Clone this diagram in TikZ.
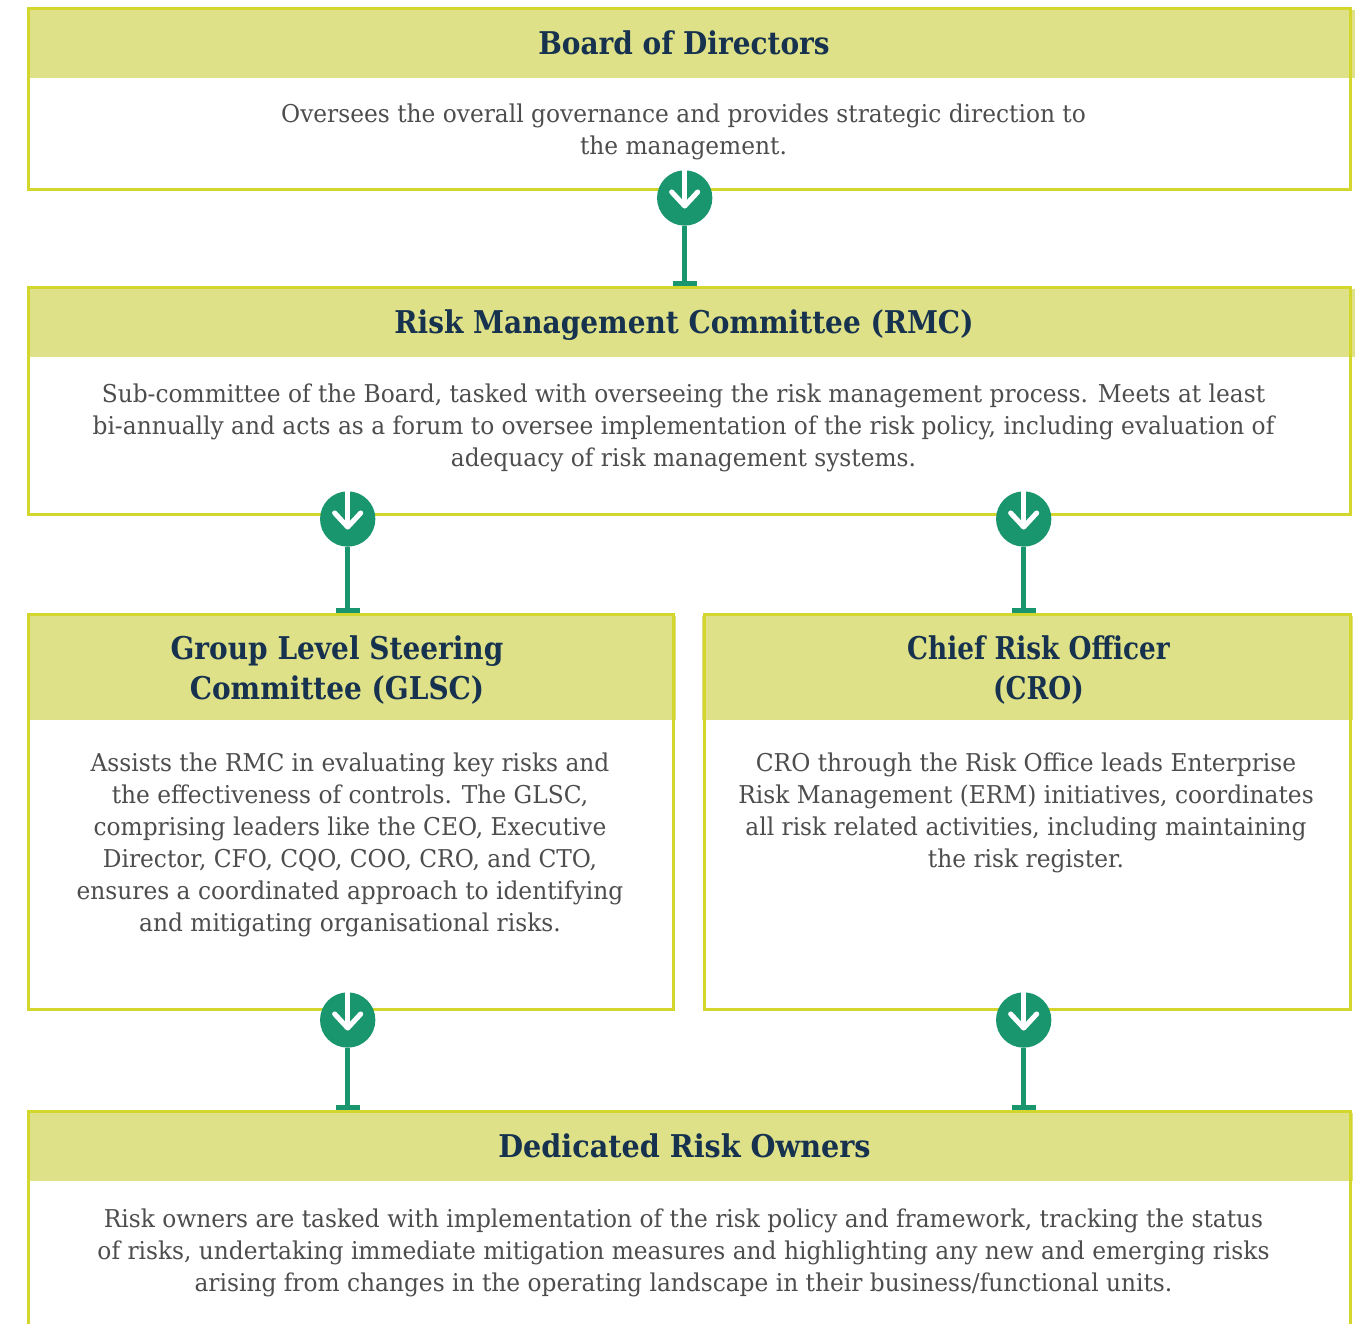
\documentclass[tikz,border=0pt]{standalone}
\usepackage{fontspec}
\setmainfont{DejaVu Serif}
\newfontfamily\bodyfont[FakeStretch=0.95]{DejaVu Serif}
\newfontfamily\headfont[FakeStretch=0.893]{DejaVu Serif}
\newfontfamily\headnarrow[FakeStretch=0.84]{DejaVu Serif}
\newfontfamily\headwide[FakeStretch=0.915]{DejaVu Serif}
\definecolor{frameC}{HTML}{D2D62D}
\definecolor{headC}{HTML}{DFE188}
\definecolor{greenC}{HTML}{1A966E}
\definecolor{navyC}{HTML}{16324F}
\definecolor{bodyC}{HTML}{4D4D4D}
\tikzset{
  x=0.75pt,y=-0.75pt,
  frame/.style={draw=frameC,line width=2.25pt},
  headfill/.style={fill=headC,draw=none},
  headtext/.style={text=navyC,align=center,inner sep=0pt,font=\headfont\bfseries\fontsize{23.5}{30}\selectfont},
  bodytext/.style={text=bodyC,align=center,inner sep=0pt,font=\bodyfont\fontsize{18.4}{24}\selectfont},
  disc/.style={circle,fill=greenC,draw=none,minimum size=41.5pt,inner sep=0pt,outer sep=0pt},
  stem/.style={draw=greenC,line width=3.75pt},
  foot/.style={draw=greenC,line width=4pt},
  chevron/.style={draw=white,line width=3.8pt,line cap=round,line join=round},
  shaft/.style={draw=white,line width=3.6pt},
}
\newcommand{\connector}[4]{%
  \node[disc] (#1) at (#2,#3) {};
  \coordinate (#1foot) at (#2,#4);
  \coordinate (#1footL) at (#2-12,#4);
  \coordinate (#1footR) at (#2+12,#4);
  \draw[stem] (#1) -- (#1foot);
  \draw[foot] (#1footL) -- (#1footR);
  \coordinate (#1top) at (#2,#3-28);
  \coordinate (#1tip) at (#2,#3+8);
  \coordinate (#1cL) at (#2-13,#3-6);
  \coordinate (#1cR) at (#2+13,#3-6);
  \draw[shaft] (#1top) -- (#1tip);
  \draw[chevron] (#1cL) -- (#1tip) -- (#1cR);
}
\begin{document}
\begin{tikzpicture}
\useasboundingbox (0,0) rectangle (1361,1324);
\fill[white] (0,0) rectangle (1361,1324);
% frames
\draw[frame] (28.5,8.5) rectangle (1350.5,189);
\draw[frame] (28.5,287.5) rectangle (1350.5,514);
\draw[frame] (28.5,614.5) rectangle (673,1009);
\draw[frame] (704,614.5) rectangle (1350.5,1009);
\draw[frame] (28.5,1324) -- (28.5,1111.5) -- (1350.5,1111.5) -- (1350.5,1324);
% header bands
\fill[headfill] (27,9.5) rectangle (1355,78);
\fill[headfill] (27,288.5) rectangle (1355,357);
\fill[headfill] (27,615.5) rectangle (676,720);
\fill[headfill] (701.5,615.5) rectangle (1353,720);
\fill[headfill] (27,1112.5) rectangle (1353,1181);
\draw[frame] (28.5,8.5) -- (1350.5,8.5) (28.5,8.5) -- (28.5,78) (1350.5,8.5) -- (1350.5,78);
\draw[frame] (28.5,287.5) -- (1350.5,287.5) (28.5,287.5) -- (28.5,357) (1350.5,287.5) -- (1350.5,357);
\draw[frame] (28.5,614.5) -- (673,614.5) (28.5,614.5) -- (28.5,720) (673,614.5) -- (673,720);
\draw[frame] (704,614.5) -- (1350.5,614.5) (704,614.5) -- (704,720) (1350.5,614.5) -- (1350.5,720);
\draw[frame] (28.5,1111.5) -- (1350.5,1111.5) (28.5,1111.5) -- (28.5,1181) (1350.5,1111.5) -- (1350.5,1181);
% headings
\node[headtext] (h1) at (684,43) {Board of Directors};
\node[headtext] (h2) at (684,325) {Risk Management Committee (RMC)};
\node[headtext] (h3) at (337,670) {Group Level Steering\\Committee (GLSC)};
\node[headtext,font=\headnarrow\bfseries\fontsize{23.5}{30}\selectfont] (h4) at (1038.5,670) {Chief Risk Officer\\(CRO)};
\node[headtext,font=\headwide\bfseries\fontsize{23.5}{30}\selectfont] (h5) at (684.5,1146) {Dedicated Risk Owners};
% body
\node[bodytext] (b1) at (683.5,131.5) {Oversees the overall governance and provides strategic direction to\\the management.};
\node[bodytext] (b2) at (683.5,427.5) {Sub-committee of the Board, tasked with overseeing the risk management process. Meets at least\\bi-annually and acts as a forum to oversee implementation of the risk policy, including evaluation of\\adequacy of risk management systems.};
\node[bodytext] (b3) at (350,844.5) {Assists the RMC in evaluating key risks and\\the effectiveness of controls. The GLSC,\\comprising leaders like the CEO, Executive\\Director, CFO, CQO, COO, CRO, and CTO,\\ensures a coordinated approach to identifying\\and mitigating organisational risks.};
\node[bodytext] (b4) at (1026,812.5) {CRO through the Risk Office leads Enterprise\\Risk Management (ERM) initiatives, coordinates\\all risk related activities, including maintaining\\the risk register.};
\node[bodytext] (b5) at (683.5,1252.5) {Risk owners are tasked with implementation of the risk policy and framework, tracking the status\\of risks, undertaking immediate mitigation measures and highlighting any new and emerging risks\\arising from changes in the operating landscape in their business/functional units.};
% connectors
\connector{c1}{684.7}{198}{283.5}
\connector{c2}{347.7}{519}{610.5}
\connector{c3}{1023.7}{519}{610.5}
\connector{c4}{347.7}{1020}{1107.5}
\connector{c5}{1023.7}{1020}{1107.5}
\end{tikzpicture}
\end{document}
